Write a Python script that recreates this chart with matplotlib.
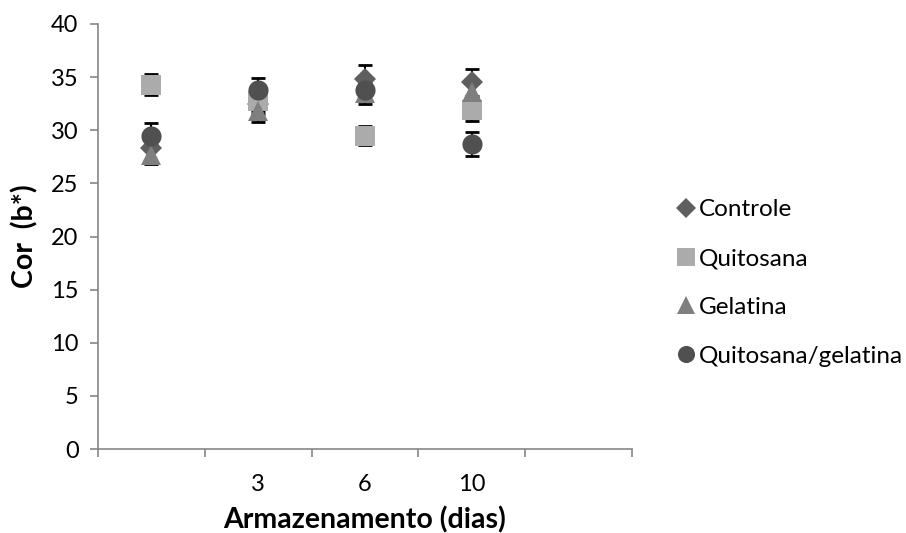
import matplotlib
matplotlib.use("Agg")
import matplotlib.pyplot as plt
import numpy as np

# Storage day categories (first category has no label, last slot is empty)
categories = ["", "3", "6", "10", ""]

series_names = ["Controle", "Quitosana", "Gelatina", "Quitosana/gelatina"]
controle = [28.3, 32.5, 34.8, 34.5]
controle_err = [1.3, 1.0, 1.3, 1.3]
quitosana = [34.3, 32.8, 29.5, 31.9]
quitosana_err = [1.0, 1.0, 0.9, 1.0]
gelatina = [27.7, 31.8, 33.5, 33.6]
gelatina_err = [0.9, 1.0, 1.0, 1.0]
quit_gel = [29.5, 33.8, 33.8, 28.7]
quit_gel_err = [1.2, 1.1, 1.0, 1.1]

plt.rcParams["font.family"] = ["Lato", "DejaVu Sans"]

fig = plt.figure(figsize=(9.06, 5.33), dpi=100)
ax = fig.add_axes([98 / 906, 1 - 449 / 533, (632 - 98) / 906, (449 - 24) / 533])

styles = [
    dict(marker="D", color="#5f5f5f", ms=11.5),
    dict(marker="s", color="#ababab", ms=14.5),
    dict(marker="^", color="#7f7f7f", ms=14.5),
    dict(marker="o", color="#505050", ms=14.5),
]
values = [controle, quitosana, gelatina, quit_gel]
errors = [controle_err, quitosana_err, gelatina_err, quit_gel_err]

x = np.arange(1, len(controle) + 1)
for i, (name, v, e, st) in enumerate(zip(series_names, values, errors, styles)):
    ax.errorbar(x, v, yerr=e, fmt="none", ecolor="black", elinewidth=1.5,
                capsize=5, capthick=2, zorder=2)
    ax.plot(x, v, linestyle="none", marker=st["marker"], color=st["color"],
            markersize=st["ms"], markeredgewidth=0, zorder=3 + i, label=name)

ax.set_xlim(0.5, len(categories) + 0.5)
ax.set_ylim(0, 40)
ax.set_yticks(np.arange(0, 41, 5))
ax.set_xticks(np.arange(0.5, len(categories) + 1, 1))
ax.set_xticklabels([])
ax.set_xticks(np.arange(1, len(categories) + 1), minor=True)
ax.set_xticklabels(categories, minor=True)
ax.tick_params(axis="x", which="minor", length=0, pad=18, labelsize=17)
ax.tick_params(axis="x", which="major", length=6, width=1.2, color="#868686", direction="out")
ax.tick_params(axis="y", length=6, width=1.2, color="#868686", labelsize=17, pad=8)

for s in ["top", "right"]:
    ax.spines[s].set_visible(False)
for s in ["left", "bottom"]:
    ax.spines[s].set_color("#868686")
    ax.spines[s].set_linewidth(1.2)

ax.set_xlabel("Armazenamento (dias)", fontsize=20.5, fontweight="bold", labelpad=8)
ax.set_ylabel("Cor  (b*)", fontsize=20.5, fontweight="bold", labelpad=9)

leg_handles = []
for st, name in zip(styles, series_names):
    leg_handles.append(plt.Line2D([], [], linestyle="none", marker=st["marker"],
                                  color=st["color"], markersize=st["ms"] * 0.85,
                                  markeredgewidth=0, label=name))
fig.legend(handles=leg_handles, loc="center left", bbox_to_anchor=(665 / 906, 1 - 283 / 533),
           frameon=False, fontsize=17.5, handlelength=0.7, handletextpad=0.2,
           labelspacing=1.15, borderpad=0)

fig.savefig("out.png", dpi=100)
